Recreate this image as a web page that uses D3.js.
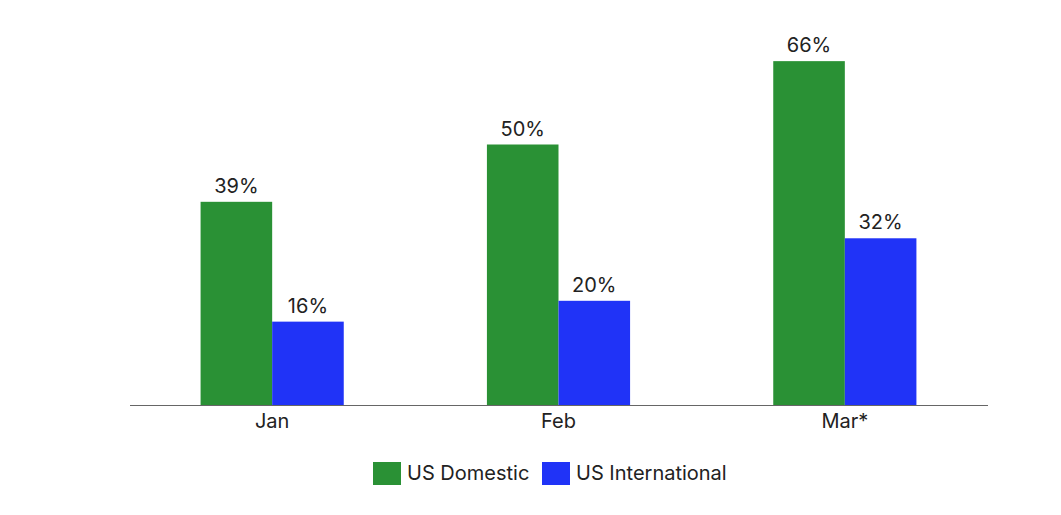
<!DOCTYPE html>
<html>
<head>
<meta charset="utf-8">
<script src="https://cdn.jsdelivr.net/npm/d3@7/dist/d3.min.js"></script>
<style>
  body { margin: 0; background: #fff; }
  svg text { font-family: Inter, Roboto, sans-serif; fill: #222; }
</style>
</head>
<body>
<svg id="chart" width="1061" height="515"></svg>
<script>
const months = ['Jan', 'Feb', 'Mar*'];
const seriesNames = ['US Domestic', 'US International'];
const domestic = [39, 50, 66];
const international = [16, 20, 32];
const seriesColors = ['#2a9135', '#2033f7'];

const svg = d3.select('#chart');
const baseY = 405;
const fontStack = 'Inter, Roboto, sans-serif';

const x = d3.scaleBand().domain(months).range([129, 988]).paddingInner(0.5).paddingOuter(0.25);
const xSub = d3.scaleBand().domain(seriesNames).range([0, x.bandwidth()]);
const y = d3.scaleLinear().domain([0, 70]).range([baseY, baseY - 70 * 5.21]);

const rows = months.map((m, i) => ({ month: m, values: [domestic[i], international[i]] }));

const groups = svg.selectAll('g.grp')
  .data(rows)
  .join('g')
  .attr('class', 'grp')
  .attr('transform', (d) => `translate(${x(d.month)},0)`);

groups.selectAll('rect')
  .data((d) => d.values.map((v, j) => ({ name: seriesNames[j], value: v, j })))
  .join('rect')
  .attr('x', (d) => xSub(d.name))
  .attr('y', (d) => y(d.value))
  .attr('width', xSub.bandwidth())
  .attr('height', (d) => baseY - y(d.value))
  .attr('fill', (d) => seriesColors[d.j]);

groups.selectAll('text.val')
  .data((d) => d.values.map((v, j) => ({ name: seriesNames[j], value: v })))
  .join('text')
  .attr('class', 'val')
  .attr('x', (d) => xSub(d.name) + xSub.bandwidth() / 2)
  .attr('y', (d) => y(d.value) - 9)
  .attr('text-anchor', 'middle')
  .attr('font-size', 20)
  .text((d) => `${d.value}%`);

// x axis
const xAxis = d3.axisBottom(x).tickSize(0).tickPadding(9);
const axisG = svg.append('g').attr('transform', `translate(0,${baseY})`).call(xAxis);
axisG.select('.domain').attr('d', 'M130,0.5H988').attr('stroke', '#666').attr('stroke-width', 1.2);
axisG.selectAll('text').attr('font-size', 20).attr('fill', '#222')
  .style('font-family', fontStack);

// legend
const legendItems = [
  { name: seriesNames[0], color: seriesColors[0], x: 373 },
  { name: seriesNames[1], color: seriesColors[1], x: 542 }
];
const leg = svg.selectAll('g.leg')
  .data(legendItems)
  .join('g')
  .attr('class', 'leg')
  .attr('transform', (d) => `translate(${d.x},462)`);
leg.append('rect').attr('width', 28).attr('height', 23).attr('fill', (d) => d.color);
leg.append('text').attr('x', 34).attr('y', 18).attr('font-size', 20).text((d) => d.name);
</script>
</body>
</html>
